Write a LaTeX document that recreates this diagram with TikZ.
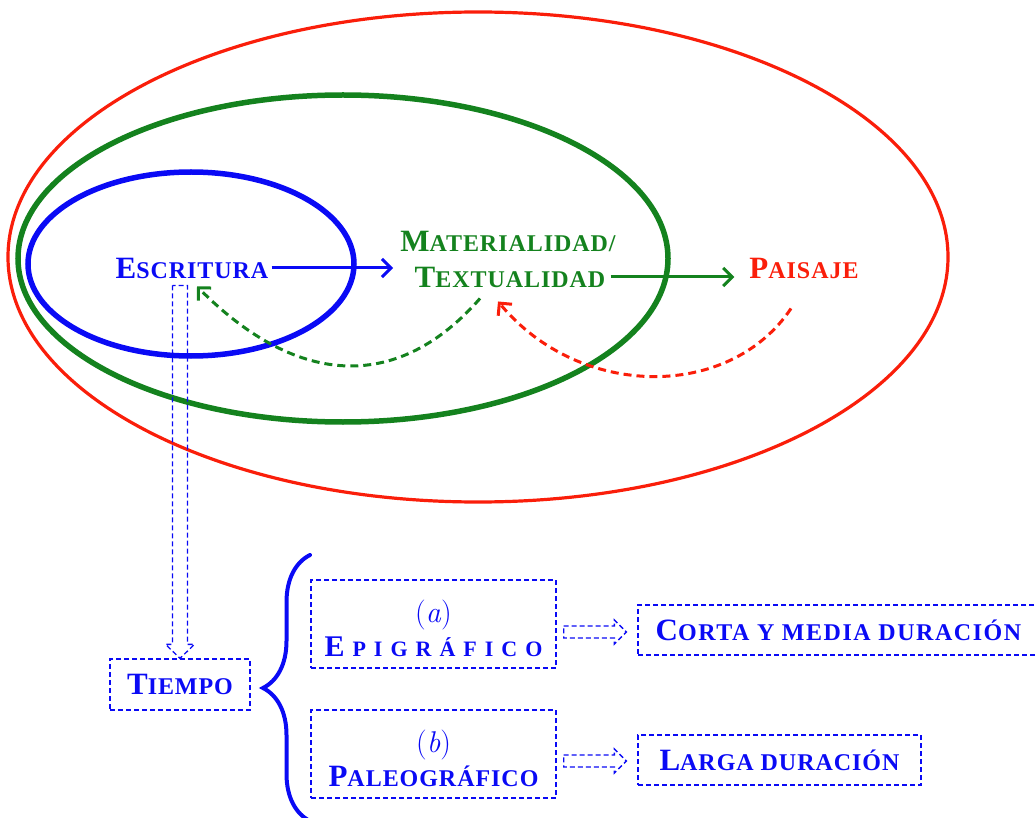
\documentclass[tikz,border=0pt]{standalone}
\usepackage{fontspec}
\usetikzlibrary{arrows.meta,calc,decorations.pathreplacing}
\newfontfamily\tb{Liberation Serif}[LetterSpace=4]
\definecolor{cblue}{RGB}{10,10,245}
\definecolor{cgreen}{RGB}{20,130,30}
\definecolor{cred}{RGB}{250,30,10}
\newcommand\scw[2]{{\tb\bfseries\fontsize{31}{37}\selectfont #1}{\tb\bfseries\fontsize{24}{37}\selectfont #2}}
\newcommand\sps{\hspace{8pt}}
\newcommand\lett[1]{{\normalfont\mdseries\fontsize{30}{34}\selectfont(\textit{#1})}}
\tikzset{
  lbl/.style={inner sep=3pt, align=center, font=\fontsize{24}{37}\selectfont},
  dbox/.style={draw=cblue, line width=1.3pt, dash pattern=on 5pt off 3pt, text=cblue, align=center, font=\fontsize{24}{34}\selectfont},
  dtext/.style={text=cblue, align=center, inner sep=0pt, font=\fontsize{24}{34}\selectfont},
  barrow/.style={draw=cblue, line width=1.3pt, dash pattern=on 5pt off 3pt, line join=miter},
  tipb/.style={-{Straight Barb[length=9pt,width=18pt]}},
}
\begin{document}
\begin{tikzpicture}[x=1pt,y=-1pt]
\useasboundingbox (0,0) rectangle (1036,818);
\clip (0,0) rectangle (1036,818);
% ellipses
\draw[cred, line width=3.2pt] (478,257) ellipse [x radius=470pt, y radius=245pt];
\draw[cgreen, line width=5.5pt] (343,258.5) ellipse [x radius=325pt, y radius=163.5pt];
\draw[cblue, line width=5.5pt] (191,264) ellipse [x radius=163pt, y radius=92pt];
% labels
\node[lbl, text=cblue] (escr) at (192,268) {\scw{E}{SCRITURA}};
\node[lbl, text=cgreen] (mat1) at (508,241) {\scw{M}{ATERIALIDAD/}};
\node[lbl, text=cgreen] (mat2) at (510,277) {\scw{T}{EXTUALIDAD}};
\node[lbl, text=cred] (pai) at (804,268) {\scw{P}{AISAJE}};
% solid arrows
\draw[cblue, line width=3pt, tipb, shorten >=4pt] (escr.east) -- (escr.east -| mat1.west);
\draw[cgreen, line width=3pt, tipb, shorten <=2pt, shorten >=12pt] (mat2.east) -- (mat2.east -| pai.west);
% dashed curved arrows
\coordinate (g0) at ($(mat2.south)+(-30,8)$);
\coordinate (g1) at ($(escr.south)+(5,5)$);
\draw[cgreen, line width=3pt, dash pattern=on 8pt off 5pt, tipb] (g0) .. controls (400,390) and (300,390) .. (g1);
\coordinate (r0) at ($(pai.south)+(-13,27)$);
\coordinate (r1) at ($(mat2.south)+(-12,11)$);
\draw[cred, line width=3pt, dash pattern=on 8pt off 5pt, tipb] (r0) .. controls (730,400) and (580,400) .. (r1);
% lower boxes
\node[dbox, minimum width=140pt, minimum height=51pt] (tiempo) at (180,684.5) {\scw{T}{IEMPO}};
\node[dbox, minimum width=245pt, minimum height=88pt] (epi) at (433.5,624) {};
\node[dtext] (epit) at ($(epi.center)+(0,4)$)
  {\lett{a}\\{\tb\bfseries\fontsize{30}{34}\selectfont E}\sps{\tb\bfseries\fontsize{22}{34}\selectfont P\sps I\sps G\sps R\sps Á\sps F\sps I\sps C\sps O}};
\node[dbox, minimum width=245pt, minimum height=88pt] (pal) at (433.5,754) {};
\node[dtext] (palt) at ($(pal.center)+(0,4)$) {\lett{b}\\\scw{P}{ALEOGRÁFICO}};
\node[dbox, minimum width=401pt, minimum height=50pt] (corta) at (838.5,630)
  {\scw{C}{\addfontfeature{LetterSpace=6.5}ORTA Y MEDIA DURACIÓN}};
\node[dbox, minimum width=283pt, minimum height=50pt] (larga) at (779.5,760) {\scw{L}{ARGA DURACIÓN}};
% brace
\draw[cblue, line width=4pt, line cap=round, decorate, decoration={brace, amplitude=47pt}] (310,821) -- (310,555);
% vertical block arrow
\coordinate (vt) at ($(tiempo.north |- escr.south)+(0,4)$);
\coordinate (vb) at (tiempo.north);
\draw[barrow] ($(vt)+(-7.5,0)$) -- ($(vb)+(-7.5,-14)$) -- ($(vb)+(-14.5,-14)$) -- (vb)
  -- ($(vb)+(14.5,-14)$) -- ($(vb)+(7.5,-14)$) -- ($(vt)+(7.5,0)$) -- cycle;
% horizontal block arrows
\coordinate (ha1) at ($(epi.east |- corta.west)+(7,2)$);
\coordinate (hb1) at ($(corta.west)+(-11,2)$);
\draw[barrow] ($(ha1)+(0,-6)$) -- ($(hb1)+(-12,-6)$) -- ($(hb1)+(-12,-12)$) -- (hb1)
  -- ($(hb1)+(-12,12)$) -- ($(hb1)+(-12,6)$) -- ($(ha1)+(0,6)$) -- cycle;
\coordinate (ha2) at ($(pal.east |- larga.west)+(7,1)$);
\coordinate (hb2) at ($(larga.west)+(-11,1)$);
\draw[barrow] ($(ha2)+(0,-6)$) -- ($(hb2)+(-12,-6)$) -- ($(hb2)+(-12,-12)$) -- (hb2)
  -- ($(hb2)+(-12,12)$) -- ($(hb2)+(-12,6)$) -- ($(ha2)+(0,6)$) -- cycle;
\end{tikzpicture}
\end{document}
